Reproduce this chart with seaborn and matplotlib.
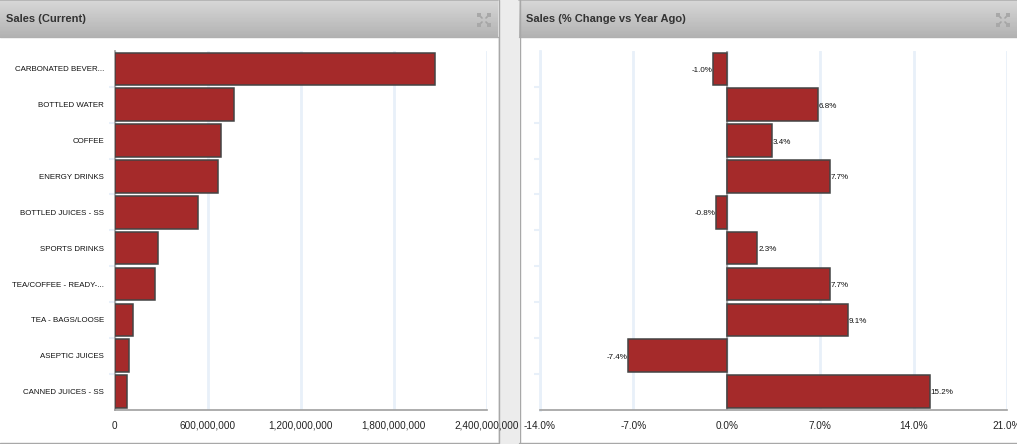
import matplotlib
matplotlib.use("Agg")
import numpy as np
import pandas as pd
import matplotlib.pyplot as plt
import seaborn as sns

categories = ["CARBONATED BEVER...", "BOTTLED WATER", "COFFEE", "ENERGY DRINKS",
              "BOTTLED JUICES - SS", "SPORTS DRINKS", "TEA/COFFEE - READY-...",
              "TEA - BAGS/LOOSE", "ASEPTIC JUICES", "CANNED JUICES - SS"]
sales = [2062000000, 767000000, 686000000, 667000000, 541000000,
         280000000, 264000000, 119000000, 93000000, 80000000]
pct_change = [-1.0, 6.8, 3.4, 7.7, -0.8, 2.3, 7.7, 9.1, -7.4, 15.2]

sales_ticks = [0, 600000000, 1200000000, 1800000000, 2400000000]
pct_ticks = [-14, -7, 0, 7, 14, 21]

W, H = 1017, 444
BAR = "#a52a2a"
EDGE = "#444444"
GRID = "#e8f0f9"
AXIS = "#a0a0a0"

sns.set_theme(style="white")
plt.rcParams["font.family"] = ["Liberation Sans", "DejaVu Sans"]

df = pd.DataFrame({"category": categories, "sales": sales, "pct": pct_change})

fig = plt.figure(figsize=(W / 100, H / 100), dpi=100, facecolor="white")


def px_axes(x0, y0, x1, y1):
    return fig.add_axes([x0 / W, 1 - y1 / H, (x1 - x0) / W, (y1 - y0) / H])


# panel chrome, drawn in pixel coords
bg = px_axes(0, 0, W, H)
bg.axis("off")
bg.fill_between([498, 519], 0, H, color="#ececec", lw=0)
grad = np.linspace(0.84, 0.70, 64).reshape(-1, 1)
for x0, x1 in [(0, 498), (519, W)]:
    bg.imshow(grad, extent=(x0, x1, 37, 1), aspect="auto", cmap="gray", vmin=0, vmax=1,
              interpolation="bilinear")
    bg.plot([x0, x1], [0.5, 0.5], color="#a8a8a8", lw=1.2)
    bg.plot([x0, x1], [37.5, 37.5], color="#b0b0b0", lw=1)
    bg.plot([x0, x1], [442.5, 442.5], color="#a8a8a8", lw=1)
bg.set_xlim(0, W)
bg.set_ylim(H, 0)
bg.plot([498.5, 498.5], [0, 443], color="#a8a8a8", lw=1)
bg.plot([519.5, 519.5], [0, 443], color="#a8a8a8", lw=1)

bg.text(6, 19.5, "Sales (Current)", fontsize=8, fontweight="bold", color="#333333", va="center")
bg.text(526, 19.5, "Sales (% Change vs Year Ago)", fontsize=8, fontweight="bold", color="#333333", va="center")

# expand icons
for cx in [484, 1003]:
    for sx, sy in [(-1, -1), (1, -1), (-1, 1), (1, 1)]:
        bg.plot([cx + sx * 2, cx + sx * 6], [20 + sy * 2, 20 + sy * 6], color="#a4a4a4", lw=1.2)
        bg.plot(cx + sx * 5, 20 + sy * 5, marker="s", ms=2.6, color="#a8a8a8", mew=0)


def draw_bars(ax, col, ticks):
    sns.barplot(data=df, x=col, y="category", orient="h", color=BAR, saturation=1,
                width=0.91, edgecolor=EDGE, linewidth=1.1, ax=ax, zorder=3)
    ax.set_xlabel("")
    ax.set_ylabel("")
    ax.set_xlim(ticks[0], ticks[-1])
    ax.set_ylim(9.5, -0.5)
    ax.set_xticks(ticks)
    ax.patch.set_alpha(0)
    ax.grid(axis="x", color=GRID, lw=2, zorder=0)
    ax.set_axisbelow(True)
    ax.set_yticks(np.arange(0.5, 9.5), minor=True)
    ax.tick_params(axis="y", which="minor", left=True, length=4.5, color=GRID, width=1.5)
    for s in ["top", "right"]:
        ax.spines[s].set_visible(False)
    ax.spines["bottom"].set_color(AXIS)
    ax.spines["bottom"].set_linewidth(1.2)
    ax.tick_params(axis="x", length=0, pad=8, labelsize=7.2, labelcolor="#222222")


# left chart
ax1 = px_axes(114.5, 51, 487, 409.5)
draw_bars(ax1, "sales", sales_ticks)
ax1.set_xticklabels([f"{t:,}" for t in sales_ticks])
ax1.spines["left"].set_color(AXIS)
ax1.tick_params(axis="y", which="major", length=0, pad=7.5, labelsize=5.7, labelcolor="#111111")

# right chart
ax2 = px_axes(540, 51, 1007, 409.5)
draw_bars(ax2, "pct", pct_ticks)
ax2.set_xticklabels([f"{t:.1f}%" for t in pct_ticks])
ax2.spines["left"].set_color(GRID)
ax2.spines["left"].set_linewidth(2)
ax2.set_yticklabels([])
ax2.tick_params(axis="y", which="major", length=0)
ax2.axvline(0, color=AXIS, lw=1.2, zorder=2)
pct_labels = ax2.bar_label(ax2.containers[0], labels=[f"{v:.1f}%" for v in pct_change],
                           padding=0.6, fontsize=5.8, color="#111111")
# labels sit a touch lower than bar centre
for t in pct_labels:
    t.xyann = (t.xyann[0], -1)

fig.savefig("out.png", dpi=100)
